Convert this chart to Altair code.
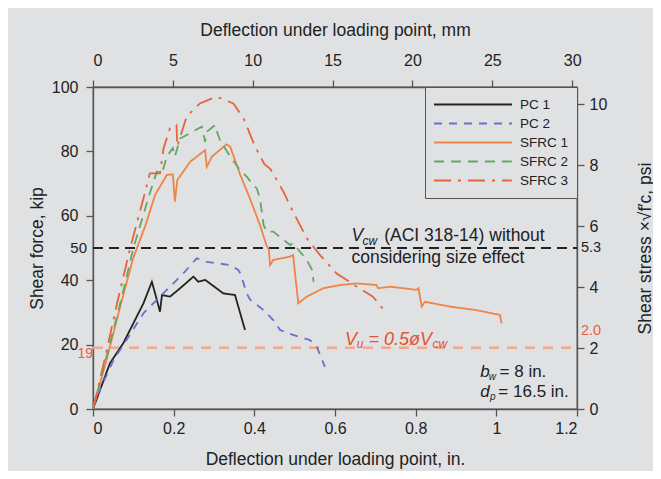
import altair as alt
import pandas as pd

# ---------------- data ----------------
series = ["PC 1", "PC 2", "SFRC 1", "SFRC 2", "SFRC 3"]
colors = ["#222222", "#6e6ecf", "#ef8446", "#62a862", "#e4643e"]
dashes = [[1, 0], [8, 7], [1, 0], [10, 7], [17, 7, 3, 7]]

pc1_x = [0, 0.042, 0.075, 0.100, 0.125, 0.146, 0.154, 0.166, 0.171, 0.191, 0.216, 0.249, 0.261, 0.278, 0.306, 0.323, 0.352, 0.377]
pc1_y = [0, 14.2, 20.4, 26.6, 32.8, 39.5, 35.9, 30.2, 35.4, 34.9, 37.5, 41.1, 39.5, 40.1, 37.5, 35.9, 35.4, 24.5]

pc2_x = [0, 0.009, 0.051, 0.083, 0.125, 0.158, 0.191, 0.224, 0.257, 0.282, 0.340, 0.360, 0.366, 0.381, 0.390, 0.423, 0.447, 0.464, 0.496, 0.538, 0.555, 0.575]
pc2_y = [0, 3.8, 15.2, 21.4, 29.7, 33.9, 38.0, 42.1, 46.8, 45.7, 44.7, 43.2, 42.0, 35.9, 33.9, 30.7, 27.6, 24.5, 23.0, 21.4, 19.3, 13.1]

sfrc1_x = [0, 0.035, 0.070, 0.100, 0.130, 0.154, 0.183, 0.198, 0.203, 0.209, 0.241, 0.278, 0.282, 0.295, 0.331, 0.340, 0.365, 0.389, 0.414, 0.430, 0.436, 0.439, 0.447, 0.488, 0.496, 0.509, 0.530, 0.571, 0.613, 0.654, 0.703, 0.707, 0.737, 0.802, 0.807, 0.815, 0.823, 0.885, 0.951, 1.009, 1.013]
sfrc1_y = [0, 16, 33, 47, 57, 66.5, 72.7, 72.9, 64.4, 71.1, 76.8, 80.4, 75.2, 78.4, 82.2, 81.5, 72.7, 65.4, 57.1, 50.9, 49.4, 44.7, 46.3, 47.3, 47.8, 32.8, 34.9, 37.5, 38.5, 39.0, 38.5, 37.5, 38.0, 37.0, 37.5, 31.8, 33.3, 31.8, 30.7, 29.2, 26.6]

sfrc2_x = [0, 0.035, 0.070, 0.100, 0.137, 0.158, 0.171, 0.183, 0.198, 0.203, 0.216, 0.270, 0.278, 0.282, 0.303, 0.310, 0.315, 0.340, 0.365, 0.381, 0.397, 0.406, 0.414, 0.423, 0.431, 0.447, 0.489, 0.496, 0.530, 0.543, 0.547]
sfrc2_y = [0, 17, 34, 49.9, 65.4, 73.7, 73.2, 78.4, 81.0, 78.4, 84.0, 87.7, 83.0, 86.1, 88.2, 85.1, 83.5, 78.4, 74.2, 72.2, 69.6, 68.5, 65.4, 57.1, 55.1, 55.1, 50.9, 51.5, 46.3, 43.2, 39.5]

sfrc3_x = [0, 0.030, 0.060, 0.092, 0.125, 0.141, 0.166, 0.175, 0.191, 0.207, 0.209, 0.232, 0.265, 0.306, 0.348, 0.373, 0.384, 0.400, 0.425, 0.440, 0.472, 0.496, 0.530, 0.563, 0.604, 0.654, 0.694, 0.728]
sfrc3_y = [0, 16, 33, 49.9, 65.4, 73.2, 73.2, 81.0, 87.2, 88.2, 81.5, 90.8, 94.9, 97.0, 94.9, 90.3, 87.0, 82.0, 76.0, 74.5, 67.5, 61.3, 53.0, 47.8, 42.1, 38.0, 34.9, 29.7]

vcw_kip = 50
vu_kip = 19

x_ticks = [0, 0.2, 0.4, 0.6, 0.8, 1.0, 1.2]
y_ticks = [0, 20, 40, 60, 80, 100]
mm_ticks = [0, 5, 10, 15, 20, 25, 30]
psi_ticks = [0, 2, 4, 6, 8, 10]

# ---------------- tables ----------------
rows = []
for name, xs, ys in zip(series, [pc1_x, pc2_x, sfrc1_x, sfrc2_x, sfrc3_x],
                        [pc1_y, pc2_y, sfrc1_y, sfrc2_y, sfrc3_y]):
    for i, (a, b) in enumerate(zip(xs, ys)):
        rows.append({"series": name, "x": a, "y": b, "i": i})
df = pd.DataFrame(rows)

FONT = "Liberation Sans, Arial, sans-serif"
W, H = 484, 322

xscale = alt.Scale(domain=[0, 1.2], nice=False, zero=False)
yscale = alt.Scale(domain=[0, 100], nice=False)

xaxis = alt.Axis(title="Deflection under loading point, in.", values=x_ticks, format="~g",
                 tickSize=7, labelPadding=4, grid=False,
                 titleX=W / 2, titleY=50, titleBaseline="middle", titleAlign="center")
yaxis = alt.Axis(title="Shear force, kip", values=y_ticks, tickSize=7, labelPadding=8, grid=False,
                 titleX=-56, titleY=H / 2, titleAngle=270, titleAlign="center", titleBaseline="middle")

X = alt.X("x:Q", scale=xscale, axis=xaxis)
Y = alt.Y("y:Q", scale=yscale, axis=yaxis)

lines = alt.Chart(df).mark_line(strokeWidth=1.8, clip=True).encode(
    x=X, y=Y,
    order="i:Q",
    color=alt.Color("series:N", scale=alt.Scale(domain=series, range=colors),
                    legend=alt.Legend(title=None, orient="top-right", offset=0,
                                      strokeColor="#555555", fillColor="#e0e1e3",
                                      padding=8, symbolType="stroke", symbolSize=6084,
                                      symbolStrokeWidth=1.8, labelFontSize=13.5,
                                      clipHeight=19, rowPadding=0,
                                      labelOffset=7, labelColor="#222222")),
    strokeDash=alt.StrokeDash("series:N", scale=alt.Scale(domain=series, range=dashes), legend=None),
)

rule_df = pd.DataFrame({"x": [0, 0], "x2": [1.2, 1.2], "y": [vcw_kip, vu_kip], "k": ["vcw", "vu"]})
vcw_rule = alt.Chart(rule_df[rule_df.k == "vcw"]).mark_rule(
    color="#222222", strokeDash=[10, 6], strokeWidth=2.2).encode(x=X, x2="x2:Q", y=Y)
vu_rule = alt.Chart(rule_df[rule_df.k == "vu"]).mark_rule(
    color="#f2a88c", strokeDash=[10, 8], strokeWidth=2.6).encode(x=X, x2="x2:Q", y=Y)


def txt(xs, ys, texts, **kw):
    d = pd.DataFrame({"x": xs, "y": ys, "t": texts})
    base = dict(font=FONT, baseline="middle", align="left")
    base.update(kw)
    return alt.Chart(d).mark_text(**base).encode(x=X, y=Y, text="t:N")


RED = "#e2532f"
ann = [
    txt([0.641], [53.6], ["V"], fontSize=17.5, fontStyle="italic", color="#222222"),
    txt([0.668], [53.6], ["cw"], fontSize=12, fontStyle="italic", color="#222222", dy=5),
    txt([0.722], [53.6], ["(ACI 318-14) without"], fontSize=17.5, color="#222222"),
    txt([0.641], [46.8], ["considering size effect"], fontSize=17.5, color="#222222"),
    txt([0.625], [21.4], ["V"], fontSize=18, fontStyle="italic", color=RED),
    txt([0.654], [21.4], ["u"], fontSize=12, fontStyle="italic", color=RED, dy=4),
    txt([0.683], [21.4], ["= 0.5øV"], fontSize=18, fontStyle="italic", color=RED),
    txt([0.842], [21.4], ["cw"], fontSize=12, fontStyle="italic", color=RED, dy=4),
    txt([0.96], [11.6], ["b"], fontSize=17, fontStyle="italic", color="#222222"),
    txt([0.981], [11.6], ["w"], fontSize=10, fontStyle="italic", color="#222222", dy=5),
    txt([1.008], [11.6], ["= 8 in."], fontSize=17, color="#222222"),
    txt([0.96], [5.4], ["d"], fontSize=17, fontStyle="italic", color="#222222"),
    txt([0.984], [5.4], ["p"], fontSize=10, fontStyle="italic", color="#222222", dy=5),
    txt([1.005], [5.4], ["= 16.5 in."], fontSize=17, color="#222222"),
    txt([1.2], [50], ["5.3"], fontSize=14.5, color="#222222", dx=4),
    txt([1.2], [23.5], ["2.0"], fontSize=14.5, color="#e8603c", dx=4, dy=-2),
    txt([0], [50], ["50"], fontSize=15, color="#222222", dx=-6, align="right"),
    txt([0], [17.7], ["19"], fontSize=14, color="#e8603c", dx=0, dy=2, align="right"),
]

main = alt.layer(vu_rule, vcw_rule, lines, *ann)

right = alt.Chart(pd.DataFrame({"s": [0, 10.56]})).mark_point(opacity=0).encode(
    y=alt.Y("s:Q", scale=alt.Scale(domain=[0, 10.56], nice=False),
            axis=alt.Axis(orient="right", title="Shear stress ×√f′c, psi", values=psi_ticks,
                          tickSize=7, labelPadding=5, grid=False,
                          titleX=68, titleY=H / 2, titleAngle=270, titleAlign="center",
                          titleBaseline="middle")))

top = alt.Chart(pd.DataFrame({"mm": [0, 30.3]})).mark_point(opacity=0).encode(
    x=alt.X("mm:Q", scale=alt.Scale(domain=[0, 30.3], nice=False),
            axis=alt.Axis(orient="top", title="Deflection under loading point, mm", values=mm_ticks,
                          tickSize=7, labelPadding=12, grid=False,
                          titleX=W / 2, titleY=-57, titleAlign="center", titleBaseline="middle")))

chart = alt.layer(main, right, top).resolve_scale(
    x="independent", y="independent"
).properties(
    width=W, height=H,
    padding={"left": 85, "top": 79, "right": 76, "bottom": 62},
    autosize=alt.AutoSizeParams(type="none"),
).configure(
    background="#e0e1e3",
).configure_view(
    stroke="#555555", strokeWidth=1.3,
).configure_axis(
    labelFont=FONT, titleFont=FONT, labelFontSize=16, titleFontSize=17.5,
    labelColor="#222222", titleColor="#222222", titleFontWeight="normal",
    domainColor="#555555", tickColor="#555555", domainWidth=1.3, tickWidth=1.3,
).configure_legend(
    labelFont=FONT,
)

chart.save("out.html", embed_options={"renderer": "svg", "actions": False})
